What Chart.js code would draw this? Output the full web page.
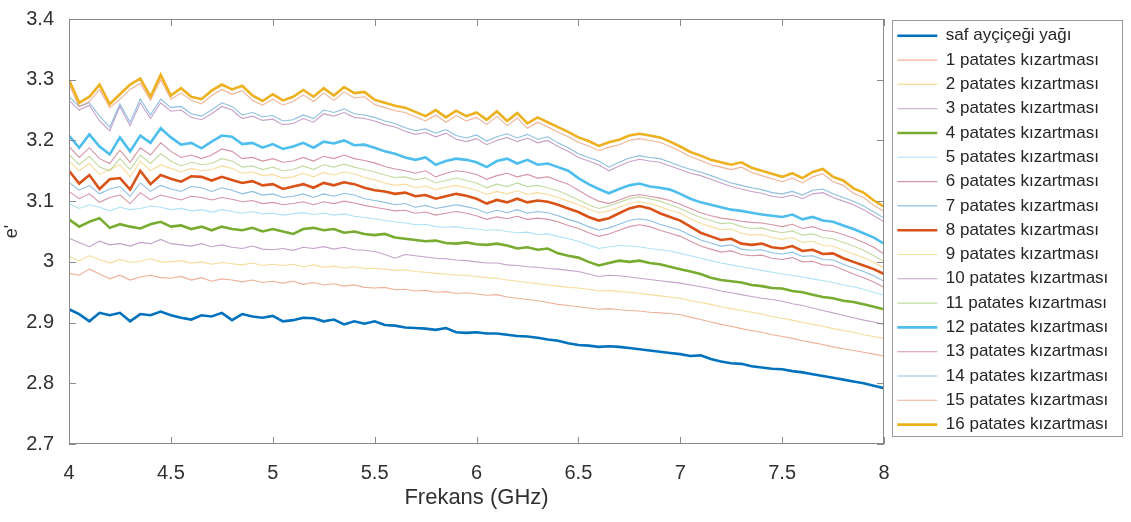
<!DOCTYPE html>
<html>
<head>
<meta charset="utf-8">
<script src="https://cdn.jsdelivr.net/npm/chart.js@4.4.0/dist/chart.umd.min.js"></script>
<style>
  html, body { margin: 0; padding: 0; background: #fff; }
  #wrap { width: 1131px; height: 522px; }
</style>
</head>
<body>
<div id="wrap"><canvas id="chart" width="1131" height="522"></canvas></div>
<script>
// frequency axis (GHz)
const freqGHz = [
  4.00, 4.05, 4.10, 4.15, 4.20, 4.25, 4.30, 4.35, 4.40, 4.45,
  4.50, 4.55, 4.60, 4.65, 4.70, 4.75, 4.80, 4.85, 4.90, 4.95,
  5.00, 5.05, 5.10, 5.15, 5.20, 5.25, 5.30, 5.35, 5.40, 5.45,
  5.50, 5.55, 5.60, 5.65, 5.70, 5.75, 5.80, 5.85, 5.90, 5.95,
  6.00, 6.05, 6.10, 6.15, 6.20, 6.25, 6.30, 6.35, 6.40, 6.45,
  6.50, 6.55, 6.60, 6.65, 6.70, 6.75, 6.80, 6.85, 6.90, 6.95,
  7.00, 7.05, 7.10, 7.15, 7.20, 7.25, 7.30, 7.35, 7.40, 7.45,
  7.50, 7.55, 7.60, 7.65, 7.70, 7.75, 7.80, 7.85, 7.90, 7.95,
  8.00
];

const safYag = [
  2.922, 2.914, 2.902, 2.916, 2.912, 2.916, 2.902, 2.914, 2.912, 2.918,
  2.912, 2.908, 2.905, 2.912, 2.910, 2.916, 2.904, 2.914, 2.910, 2.908,
  2.911, 2.902, 2.904, 2.908, 2.907, 2.902, 2.905, 2.897, 2.902, 2.898,
  2.902, 2.896, 2.895, 2.892, 2.891, 2.890, 2.888, 2.891, 2.884, 2.883,
  2.884, 2.882, 2.882, 2.880, 2.878, 2.877, 2.875, 2.872, 2.870, 2.866,
  2.863, 2.862, 2.860, 2.861, 2.860, 2.858, 2.856, 2.854, 2.852, 2.850,
  2.848, 2.845, 2.846, 2.840, 2.836, 2.833, 2.832, 2.828, 2.826, 2.824,
  2.823, 2.820, 2.818, 2.815, 2.812, 2.809, 2.806, 2.803, 2.800, 2.796,
  2.792
];
const patates1 = [
  2.981, 2.978, 2.988, 2.980, 2.972, 2.978, 2.970, 2.975, 2.978, 2.974,
  2.973, 2.976, 2.970, 2.974, 2.968, 2.972, 2.970, 2.967, 2.970, 2.966,
  2.968, 2.965, 2.968, 2.963, 2.966, 2.962, 2.964, 2.960, 2.962, 2.958,
  2.957, 2.958, 2.954, 2.955, 2.952, 2.953, 2.950, 2.951, 2.948, 2.949,
  2.947, 2.945, 2.946, 2.942, 2.940, 2.938, 2.936, 2.933, 2.930, 2.928,
  2.926, 2.924, 2.922, 2.923, 2.921, 2.920, 2.919, 2.917, 2.916, 2.915,
  2.913, 2.909, 2.905, 2.901, 2.897, 2.894, 2.890, 2.887, 2.884, 2.880,
  2.877, 2.874, 2.870, 2.867, 2.864, 2.860, 2.857, 2.854, 2.851, 2.848,
  2.845
];
const patates2 = [
  3.009, 3.002, 3.010, 3.004, 2.998, 3.004, 2.999, 3.001, 3.005, 3.000,
  3.000, 3.002, 2.998, 3.000, 2.996, 2.999, 2.997, 2.995, 2.998, 2.994,
  2.996, 2.994, 2.996, 2.992, 2.995, 2.991, 2.993, 2.990, 2.992, 2.989,
  2.989, 2.988, 2.986, 2.987, 2.984, 2.983, 2.981, 2.980, 2.978, 2.978,
  2.976, 2.974, 2.973, 2.970, 2.968, 2.966, 2.964, 2.962, 2.960, 2.958,
  2.957, 2.955, 2.952, 2.953, 2.951, 2.950, 2.948, 2.946, 2.944, 2.942,
  2.940, 2.936, 2.933, 2.930, 2.926, 2.923, 2.920, 2.917, 2.914, 2.910,
  2.907, 2.904, 2.900, 2.897, 2.894, 2.890, 2.887, 2.884, 2.880, 2.877,
  2.874
];
const patates3 = [
  3.039, 3.032, 3.025, 3.034, 3.028, 3.030, 3.026, 3.032, 3.030, 3.037,
  3.030, 3.028, 3.026, 3.030, 3.025, 3.028, 3.024, 3.022, 3.026, 3.021,
  3.020, 3.022, 3.019, 3.024, 3.022, 3.025, 3.021, 3.024, 3.020, 3.019,
  3.017, 3.012, 3.006, 3.012, 3.010, 3.008, 3.006, 3.005, 3.003, 3.002,
  3.000, 2.998, 2.998, 2.995, 2.994, 2.992, 2.991, 2.989, 2.988, 2.986,
  2.984, 2.980, 2.976, 2.978, 2.977, 2.975, 2.973, 2.971, 2.969, 2.967,
  2.965, 2.962, 2.959, 2.956, 2.952, 2.949, 2.946, 2.943, 2.940, 2.938,
  2.935, 2.931, 2.928, 2.924, 2.920, 2.916, 2.912, 2.908, 2.904, 2.901,
  2.897
];
const patates4 = [
  3.070, 3.058, 3.066, 3.072, 3.056, 3.062, 3.058, 3.055, 3.062, 3.066,
  3.058, 3.060, 3.054, 3.058, 3.052, 3.058, 3.054, 3.052, 3.056, 3.050,
  3.054, 3.050, 3.046, 3.054, 3.056, 3.052, 3.054, 3.048, 3.050, 3.046,
  3.044, 3.046, 3.040, 3.038, 3.036, 3.034, 3.035, 3.031, 3.030, 3.032,
  3.029, 3.028, 3.030, 3.027, 3.022, 3.024, 3.020, 3.022, 3.014, 3.010,
  3.007, 3.000, 2.994, 2.998, 3.002, 3.000, 3.002, 2.998, 2.996, 2.992,
  2.988, 2.984, 2.980, 2.974, 2.970, 2.968, 2.966, 2.962, 2.960, 2.957,
  2.956, 2.952, 2.950, 2.946, 2.942, 2.940, 2.936, 2.934, 2.930, 2.926,
  2.922
];
const patates5 = [
  3.096, 3.088, 3.094, 3.090, 3.084, 3.090, 3.086, 3.088, 3.092, 3.090,
  3.086, 3.088, 3.084, 3.086, 3.082, 3.086, 3.083, 3.080, 3.083, 3.079,
  3.080, 3.077, 3.079, 3.081, 3.078, 3.080, 3.077, 3.079, 3.075, 3.073,
  3.071, 3.068, 3.066, 3.064, 3.061, 3.062, 3.058, 3.057, 3.058, 3.055,
  3.054, 3.052, 3.053, 3.050, 3.048, 3.049, 3.045, 3.046, 3.042, 3.038,
  3.034, 3.028, 3.022, 3.025, 3.027, 3.026, 3.025, 3.022, 3.020, 3.018,
  3.014, 3.010, 3.006, 3.002, 2.998, 2.995, 2.992, 2.989, 2.986, 2.983,
  2.980, 2.978, 2.975, 2.972, 2.969, 2.966, 2.962, 2.959, 2.955, 2.950,
  2.945
];
const patates6 = [
  3.116, 3.104, 3.112, 3.098, 3.106, 3.110, 3.096, 3.114, 3.102, 3.110,
  3.106, 3.102, 3.108, 3.106, 3.102, 3.106, 3.103, 3.099, 3.101, 3.096,
  3.098, 3.094, 3.096, 3.099, 3.094, 3.099, 3.096, 3.100, 3.097, 3.093,
  3.090, 3.087, 3.084, 3.085, 3.080, 3.082, 3.077, 3.080, 3.083, 3.080,
  3.076, 3.070, 3.074, 3.071, 3.075, 3.070, 3.072, 3.070, 3.066, 3.060,
  3.055, 3.048, 3.042, 3.046, 3.052, 3.058, 3.061, 3.058, 3.052, 3.047,
  3.042, 3.034, 3.026, 3.021, 3.016, 3.018, 3.012, 3.010, 3.011, 3.006,
  3.004, 3.007, 3.000, 3.001, 2.995, 2.994, 2.987, 2.980, 2.974, 2.967,
  2.958
];
const patates7 = [
  3.131, 3.118, 3.126, 3.112, 3.120, 3.124, 3.108, 3.130, 3.116, 3.126,
  3.120, 3.116, 3.124, 3.122, 3.116, 3.122, 3.118, 3.112, 3.116, 3.110,
  3.112, 3.106, 3.108, 3.112, 3.106, 3.112, 3.108, 3.113, 3.110, 3.104,
  3.101, 3.098, 3.094, 3.096, 3.090, 3.093, 3.088, 3.091, 3.094, 3.091,
  3.087, 3.080, 3.085, 3.081, 3.086, 3.080, 3.083, 3.081, 3.076, 3.070,
  3.065, 3.058, 3.052, 3.056, 3.062, 3.068, 3.071, 3.068, 3.062, 3.057,
  3.052, 3.044, 3.036, 3.031, 3.026, 3.028, 3.021, 3.019, 3.020, 3.015,
  3.013, 3.016, 3.009, 3.010, 3.004, 3.003, 2.996, 2.990, 2.984, 2.977,
  2.968
];
const patates8 = [
  3.150, 3.129, 3.143, 3.120, 3.136, 3.138, 3.119, 3.150, 3.128, 3.143,
  3.137, 3.132, 3.141, 3.140, 3.134, 3.140, 3.135, 3.130, 3.133, 3.126,
  3.128, 3.120, 3.124, 3.128, 3.122, 3.130, 3.126, 3.131, 3.128, 3.122,
  3.118, 3.116, 3.112, 3.114, 3.108, 3.110, 3.104, 3.108, 3.112, 3.109,
  3.104, 3.096, 3.102, 3.098, 3.104, 3.098, 3.101, 3.099, 3.094, 3.088,
  3.082, 3.074, 3.068, 3.072, 3.080, 3.088, 3.092, 3.088, 3.080, 3.074,
  3.068, 3.058, 3.048, 3.042, 3.036, 3.038, 3.030, 3.028, 3.030, 3.024,
  3.022, 3.026, 3.018, 3.020, 3.013, 3.014, 3.006, 3.000, 2.994, 2.988,
  2.980
];
const patates9 = [
  3.166, 3.150, 3.162, 3.144, 3.152, 3.160, 3.140, 3.166, 3.150, 3.160,
  3.154, 3.148, 3.154, 3.150, 3.152, 3.158, 3.154, 3.146, 3.148, 3.142,
  3.144, 3.138, 3.140, 3.146, 3.140, 3.147, 3.143, 3.148, 3.145, 3.139,
  3.135, 3.130, 3.126, 3.128, 3.122, 3.125, 3.119, 3.123, 3.126, 3.122,
  3.118, 3.111, 3.116, 3.112, 3.117, 3.111, 3.114, 3.111, 3.106, 3.100,
  3.094, 3.087, 3.081, 3.084, 3.090, 3.096, 3.099, 3.096, 3.091, 3.085,
  3.080, 3.071, 3.063, 3.058, 3.053, 3.054, 3.047, 3.044, 3.045, 3.040,
  3.037, 3.040, 3.032, 3.034, 3.027, 3.026, 3.019, 3.013, 3.007, 2.999,
  2.990
];
const patates10 = [
  3.266, 3.250, 3.258, 3.232, 3.216, 3.256, 3.224, 3.262, 3.236, 3.262,
  3.248, 3.250, 3.238, 3.234, 3.244, 3.256, 3.250, 3.236, 3.240, 3.233,
  3.235, 3.226, 3.228, 3.236, 3.230, 3.244, 3.240, 3.246, 3.238, 3.236,
  3.232, 3.226, 3.222, 3.215, 3.210, 3.213, 3.206, 3.212, 3.202, 3.198,
  3.203, 3.193, 3.200, 3.205, 3.198, 3.204, 3.196, 3.200, 3.190, 3.182,
  3.172, 3.166, 3.160, 3.150, 3.158, 3.165, 3.169, 3.166, 3.164, 3.158,
  3.152, 3.146, 3.142, 3.136, 3.130, 3.124, 3.120, 3.116, 3.113, 3.108,
  3.106, 3.110, 3.104, 3.112, 3.114, 3.106, 3.100, 3.094, 3.086, 3.076,
  3.066
];
const patates11 = [
  3.177, 3.160, 3.174, 3.156, 3.150, 3.170, 3.152, 3.176, 3.162, 3.178,
  3.166, 3.158, 3.164, 3.160, 3.162, 3.170, 3.166, 3.156, 3.158, 3.152,
  3.156, 3.150, 3.152, 3.158, 3.152, 3.160, 3.156, 3.161, 3.156, 3.152,
  3.148, 3.143, 3.139, 3.140, 3.135, 3.138, 3.130, 3.134, 3.138, 3.134,
  3.130, 3.122, 3.128, 3.124, 3.130, 3.124, 3.126, 3.122, 3.117, 3.110,
  3.102, 3.094, 3.088, 3.092, 3.098, 3.104, 3.107, 3.104, 3.100, 3.094,
  3.088, 3.080, 3.073, 3.068, 3.063, 3.064, 3.058, 3.055, 3.056, 3.051,
  3.048, 3.051, 3.044, 3.046, 3.040, 3.038, 3.032, 3.026, 3.019, 3.010,
  3.001
];
const patates12 = [
  3.208, 3.188, 3.210, 3.190, 3.177, 3.205, 3.182, 3.208, 3.196, 3.220,
  3.205, 3.193, 3.196, 3.187, 3.198, 3.208, 3.206, 3.194, 3.196, 3.188,
  3.194, 3.186, 3.190, 3.196, 3.188, 3.198, 3.195, 3.200, 3.192, 3.193,
  3.188, 3.182, 3.178, 3.172, 3.168, 3.172, 3.160, 3.166, 3.170, 3.168,
  3.164, 3.156, 3.166, 3.170, 3.162, 3.168, 3.160, 3.162, 3.156, 3.150,
  3.138, 3.128, 3.120, 3.113, 3.120, 3.126, 3.129, 3.124, 3.122, 3.119,
  3.112, 3.104, 3.098, 3.094, 3.090, 3.086, 3.084, 3.081, 3.078, 3.076,
  3.074, 3.078, 3.070, 3.074, 3.068, 3.066, 3.060, 3.054, 3.047, 3.040,
  3.030
];
const patates13 = [
  3.190, 3.172, 3.188, 3.170, 3.162, 3.184, 3.164, 3.188, 3.176, 3.196,
  3.182, 3.172, 3.176, 3.170, 3.176, 3.186, 3.182, 3.170, 3.172, 3.166,
  3.170, 3.164, 3.166, 3.172, 3.166, 3.174, 3.170, 3.176, 3.170, 3.167,
  3.163, 3.157, 3.153, 3.150, 3.146, 3.150, 3.140, 3.146, 3.150, 3.148,
  3.144, 3.136, 3.142, 3.146, 3.140, 3.144, 3.138, 3.140, 3.134, 3.128,
  3.118, 3.108, 3.100, 3.096, 3.102, 3.108, 3.111, 3.108, 3.105, 3.101,
  3.095, 3.088, 3.081, 3.076, 3.072, 3.070, 3.067, 3.065, 3.064, 3.061,
  3.058, 3.062, 3.055, 3.058, 3.052, 3.050, 3.045, 3.039, 3.032, 3.024,
  3.013
];
const patates14 = [
  3.272, 3.256, 3.262, 3.240, 3.222, 3.260, 3.230, 3.268, 3.242, 3.268,
  3.254, 3.256, 3.244, 3.240, 3.250, 3.262, 3.256, 3.242, 3.246, 3.239,
  3.241, 3.232, 3.234, 3.242, 3.236, 3.250, 3.246, 3.252, 3.244, 3.242,
  3.238, 3.232, 3.228, 3.221, 3.216, 3.219, 3.212, 3.218, 3.208, 3.204,
  3.209, 3.199, 3.206, 3.211, 3.204, 3.210, 3.202, 3.206, 3.196, 3.188,
  3.178, 3.172, 3.166, 3.156, 3.164, 3.171, 3.175, 3.172, 3.170, 3.164,
  3.158, 3.152, 3.148, 3.142, 3.136, 3.130, 3.126, 3.122, 3.119, 3.114,
  3.112, 3.116, 3.110, 3.118, 3.120, 3.112, 3.106, 3.100, 3.092, 3.082,
  3.072
];
const patates15 = [
  3.292, 3.256, 3.264, 3.284, 3.254, 3.268, 3.284, 3.294, 3.266, 3.300,
  3.268, 3.278, 3.266, 3.260, 3.274, 3.284, 3.276, 3.282, 3.266, 3.258,
  3.268, 3.258, 3.264, 3.275, 3.264, 3.278, 3.266, 3.280, 3.270, 3.272,
  3.259, 3.254, 3.249, 3.246, 3.239, 3.232, 3.242, 3.230, 3.241, 3.232,
  3.238, 3.226, 3.240, 3.224, 3.237, 3.220, 3.230, 3.222, 3.214, 3.206,
  3.197, 3.191, 3.183, 3.189, 3.193, 3.200, 3.203, 3.200, 3.197, 3.190,
  3.182, 3.173, 3.167, 3.160, 3.156, 3.152, 3.156, 3.147, 3.142, 3.137,
  3.132, 3.138, 3.130, 3.140, 3.145, 3.132, 3.126, 3.113, 3.106, 3.093,
  3.083
];
const patates16 = [
  3.300, 3.262, 3.272, 3.292, 3.260, 3.276, 3.292, 3.302, 3.272, 3.308,
  3.274, 3.286, 3.272, 3.268, 3.282, 3.292, 3.284, 3.290, 3.274, 3.265,
  3.276, 3.266, 3.272, 3.283, 3.272, 3.286, 3.274, 3.288, 3.278, 3.280,
  3.267, 3.262, 3.257, 3.254, 3.247, 3.240, 3.250, 3.238, 3.249, 3.240,
  3.246, 3.234, 3.248, 3.232, 3.245, 3.228, 3.238, 3.230, 3.222, 3.214,
  3.205, 3.199, 3.191, 3.197, 3.201, 3.208, 3.211, 3.208, 3.205, 3.198,
  3.190, 3.181, 3.175, 3.168, 3.164, 3.160, 3.164, 3.155, 3.150, 3.145,
  3.140, 3.146, 3.138, 3.148, 3.153, 3.140, 3.134, 3.121, 3.114, 3.101,
  3.091
];

const seriesNames = [
  "saf ayçiçeği yağı",
  "1 patates kızartması", "2 patates kızartması", "3 patates kızartması",
  "4 patates kızartması", "5 patates kızartması", "6 patates kızartması",
  "7 patates kızartması", "8 patates kızartması", "9 patates kızartması",
  "10 patates kızartması", "11 patates kızartması", "12 patates kızartması",
  "13 patates kızartması", "14 patates kızartması", "15 patates kızartması",
  "16 patates kızartması"
];
const seriesValues = [
  safYag, patates1, patates2, patates3, patates4, patates5, patates6, patates7, patates8,
  patates9, patates10, patates11, patates12, patates13, patates14, patates15, patates16
];

const xTicks = [4, 4.5, 5, 5.5, 6, 6.5, 7, 7.5, 8];
const yTicks = [2.7, 2.8, 2.9, 3.0, 3.1, 3.2, 3.3, 3.4];

// matlab default colour order, cycled over the series
const lineColors = ["#0072BD", "#D95319", "#EDB120", "#7E2F8E", "#77AC30", "#4DBEEE", "#A2142F"];
const thickSeries = [0, 4, 8, 12, 16];

function fade(hex, a) {
  const n = parseInt(hex.slice(1), 16);
  return `rgba(${(n >> 16) & 255}, ${(n >> 8) & 255}, ${n & 255}, ${a})`;
}

const datasets = seriesValues.map((vals, i) => {
  const thick = thickSeries.includes(i);
  const col = lineColors[i % lineColors.length];
  const c = thick ? col : fade(col, 0.45);
  return {
    label: seriesNames[i],
    data: vals.map((v, k) => ({ x: freqGHz[k], y: v })),
    borderColor: c,
    backgroundColor: c,
    borderWidth: thick ? 2.6 : 1.1,
    pointRadius: 0,
    tension: 0,
    order: seriesValues.length - i
  };
});

const axisGray = "#8a8a8a";
const textColor = "#303030";
const fontFam = "'Liberation Sans', Arial, sans-serif";

// box round the plot with inward ticks, and the frame round the legend
const matlabBox = {
  id: "matlabBox",
  afterInit(chart) {
    const lg = chart.legend;
    const origFit = lg.fit.bind(lg);
    lg.fit = function () {
      origFit();
      this.width = 247;
    };
  },
  afterLayout(chart) {
    // nudge the legend a little away from the plot box
    const lg = chart.legend;
    lg.left += 6;
    lg.width -= 6;
    lg.top += 3;
  },
  afterDraw(chart) {
    const { ctx, chartArea: a, scales: { x, y } } = chart;
    ctx.save();
    ctx.strokeStyle = axisGray;
    ctx.lineWidth = 1;
    ctx.strokeRect(a.left + 0.5, a.top + 0.5, a.width - 1, a.height - 1);
    ctx.beginPath();
    xTicks.forEach(v => {
      const px = Math.round(x.getPixelForValue(v)) + 0.5;
      ctx.moveTo(px, a.bottom); ctx.lineTo(px, a.bottom - 7);
      ctx.moveTo(px, a.top); ctx.lineTo(px, a.top + 7);
    });
    yTicks.forEach(v => {
      const py = Math.round(y.getPixelForValue(v)) + 0.5;
      ctx.moveTo(a.left, py); ctx.lineTo(a.left + 7, py);
      ctx.moveTo(a.right, py); ctx.lineTo(a.right - 7, py);
    });
    ctx.stroke();

    const boxes = chart.legend.legendHitBoxes;
    if (boxes && boxes.length) {
      const l = Math.min(...boxes.map(b => b.left)) - 5;
      const t = Math.min(...boxes.map(b => b.top)) - 7;
      const b = Math.max(...boxes.map(b => b.top + b.height)) + 3;
      const r = chart.legend.right - 9;
      ctx.strokeStyle = "#9a9a9a";
      ctx.strokeRect(Math.round(l) + 0.5, Math.round(t) + 0.5, Math.round(r - l), Math.round(b - t));
    }
    ctx.restore();
  }
};

new Chart(document.getElementById("chart"), {
  type: "line",
  data: { datasets },
  options: {
    responsive: false,
    animation: false,
    devicePixelRatio: 1,
    layout: { padding: { top: 17, left: 0, right: 0, bottom: 0 } },
    plugins: {
      tooltip: { enabled: false },
      legend: {
        position: "right",
        align: "start",
        labels: {
          usePointStyle: true,
          pointStyle: "line",
          pointStyleWidth: 40,
          boxHeight: 17,
          padding: 7.3,
          color: "#262626",
          font: { family: fontFam, size: 17 },
          sort: (p, q) => p.datasetIndex - q.datasetIndex
        }
      }
    },
    scales: {
      x: {
        type: "linear",
        min: 4,
        max: 8,
        afterBuildTicks: s => { s.ticks = xTicks.map(v => ({ value: v })); },
        afterFit: s => { s.height = 78; },
        grid: { display: false },
        border: { display: false },
        ticks: {
          color: textColor,
          padding: 9,
          maxRotation: 0,
          font: { family: fontFam, size: 20 },
          callback: v => String(v)
        },
        title: {
          display: true,
          text: "Frekans (GHz)",
          color: textColor,
          font: { family: fontFam, size: 22 },
          padding: { top: 4, bottom: 11 }
        }
      },
      y: {
        type: "linear",
        min: 2.7,
        max: 3.4,
        afterBuildTicks: s => { s.ticks = yTicks.map(v => ({ value: v })); },
        afterFit: s => { s.width = 69; },
        grid: { display: false },
        border: { display: false },
        ticks: {
          color: textColor,
          padding: 7,
          font: { family: fontFam, size: 20 },
          callback: v => String(Math.round(v * 10) / 10)
        },
        title: {
          display: true,
          text: "e'",
          color: textColor,
          font: { family: fontFam, size: 18 },
          padding: { top: 1, bottom: 0 }
        }
      }
    }
  },
  plugins: [matlabBox]
});
</script>
</body>
</html>
